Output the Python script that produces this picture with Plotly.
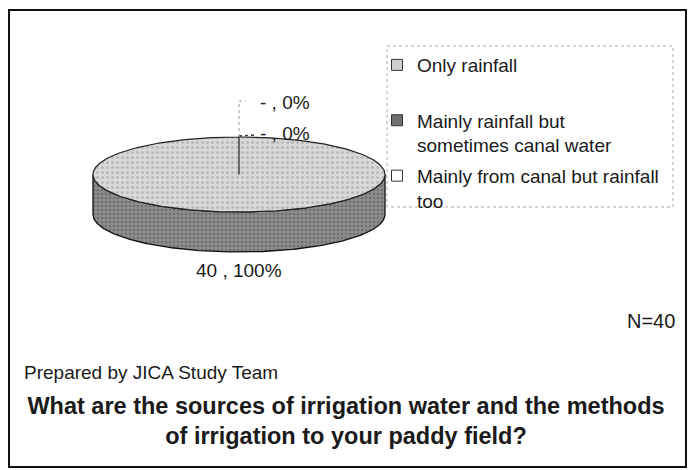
import numpy as np
import plotly.graph_objects as go

# ---------------- data ----------------
categories = ["Only rainfall",
              "Mainly rainfall but sometimes canal water",
              "Mainly from canal but rainfall too"]
legend_labels = ["Only rainfall<br> ",
                 "Mainly rainfall but<br>sometimes canal water",
                 "Mainly from canal but rainfall<br>too"]
counts = [40, 0, 0]
count_text = ["40", "-", "-"]
sample_size = 40
note_text = "Prepared by JICA Study Team"
title_text = ("What are the sources of irrigation water and the methods<br>"
              "of irrigation to your paddy field?")

# ---------------- styling / geometry ----------------
W, H = 692, 470
FONT = "Liberation Sans, Arial, sans-serif"
cx, cy, rx, ry, depth = 239, 174.5, 146, 37.5, 40
top_fill = ["#d9d9d9", "#7a7a7a", "#ffffff"]
top_fg = ["#9a9a9a", "#4a4a4a", "#ffffff"]
side_fill = ["#8c8c8c", "#555555", "#cccccc"]
side_fg = ["#555555", "#333333", "#999999"]
key_fill = ["#cfcfcf", "#707070", "#ffffff"]
txt = "#1a1a1a"

fig = go.Figure()

total = sum(counts)
fracs = [c / total for c in counts]
start = -np.pi / 2
angles = []
cum = 0.0
for f in fracs:
    t0 = start + 2 * np.pi * cum
    cum += f
    t1 = start + 2 * np.pi * cum
    angles.append((t0, t1))

# side walls (front half only)
for i, (t0, t1) in enumerate(angles):
    if t1 <= t0:
        continue
    for k in (-1, 0, 1):
        a = max(t0, 2 * np.pi * k)
        b = min(t1, np.pi + 2 * np.pi * k)
        if b > a:
            th = np.linspace(a, b, 200)
            xs = np.concatenate([cx + rx * np.cos(th), cx + rx * np.cos(th[::-1])])
            ys = np.concatenate([cy + ry * np.sin(th), cy + depth + ry * np.sin(th[::-1])])
            xs = np.append(xs, xs[0]); ys = np.append(ys, ys[0])
            fig.add_trace(go.Scatter(
                x=xs, y=ys, mode="lines", fill="toself",
                fillcolor=side_fill[i],
                fillpattern=dict(shape=".", fgcolor=side_fg[i], bgcolor=side_fill[i],
                                 size=4, solidity=0.35),
                line=dict(color="#111111", width=1.3),
                hoverinfo="skip", showlegend=False))

# top wedges
for i, (t0, t1) in enumerate(angles):
    if t1 <= t0:
        continue
    th = np.linspace(t0, t1, 400)
    xs = np.concatenate([[cx], cx + rx * np.cos(th), [cx]])
    ys = np.concatenate([[cy], cy + ry * np.sin(th), [cy]])
    fig.add_trace(go.Scatter(
        x=xs, y=ys, mode="lines", fill="toself",
        fillcolor=top_fill[i],
        fillpattern=dict(shape=".", fgcolor=top_fg[i], bgcolor=top_fill[i],
                         size=5, solidity=0.3),
        line=dict(color="#222222", width=1.2),
        hoverinfo="skip", showlegend=False))

# data labels
annotations = []
zero_rank = 0
for i, (t0, t1) in enumerate(angles):
    pct = round(100 * counts[i] / total)
    label = f"{count_text[i]} , {pct}%"
    mid = (t0 + t1) / 2
    if counts[i] > 0:
        lx = cx + rx * np.cos(mid)
        ly = cy + ry * np.sin(mid) + depth + 18
        annotations.append(dict(x=lx, y=ly, text=label, showarrow=False,
                                xanchor="center", yanchor="middle",
                                font=dict(family=FONT, size=19, color=txt)))
    else:
        ax_ = cx + rx * np.cos(mid)
        ay_ = cy + ry * np.sin(mid)
        if zero_rank == 0:
            lx, ly = ax_ + 19, ay_ - 4
            fig.add_trace(go.Scatter(x=[ax_, lx - 3], y=[ay_ - 1, ay_ - 2], mode="lines",
                                     line=dict(color="#333333", width=1.4, dash="dot"),
                                     hoverinfo="skip", showlegend=False))
        else:
            lx, ly = ax_ + 19, ay_ - 35
            fig.add_trace(go.Scatter(x=[ax_, ax_, ax_ + 7], y=[ay_, ly - 1, ly - 1],
                                     mode="lines",
                                     line=dict(color="#9a9a9a", width=1, dash="dot"),
                                     hoverinfo="skip", showlegend=False))
        zero_rank += 1
        annotations.append(dict(x=lx, y=ly, text=label, showarrow=False,
                                xanchor="left", yanchor="middle",
                                font=dict(family=FONT, size=19, color=txt)))

# legend keys
for i, name in enumerate(legend_labels):
    fig.add_trace(go.Scatter(
        x=[None], y=[None], mode="markers", name=name,
        legendgroup=f"g{i}",
        marker=dict(symbol="square", size=11, color=key_fill[i],
                    line=dict(color="#333333", width=1)),
        hoverinfo="skip"))

annotations += [
    dict(x=677, y=321, text=f"N={sample_size}", showarrow=False,
         xanchor="right", yanchor="middle",
         font=dict(family=FONT, size=20, color=txt)),
    dict(x=22, y=372, text=note_text, showarrow=False,
         xanchor="left", yanchor="middle",
         font=dict(family=FONT, size=19, color=txt)),
]

shapes = [
    dict(type="rect", x0=9, y0=10, x1=686, y1=467, xref="x", yref="y",
         line=dict(color="#111111", width=2), layer="below"),
    dict(type="rect", x0=387, y0=46, x1=673, y1=207, xref="x", yref="y",
         line=dict(color="#aaaaaa", width=1, dash="dot"), layer="below"),
]

fig.update_layout(
    width=W, height=H,
    margin=dict(l=0, r=0, t=0, b=0, pad=0),
    paper_bgcolor="white", plot_bgcolor="white",
    xaxis=dict(range=[0, W], visible=False, fixedrange=True),
    yaxis=dict(range=[H, 0], visible=False, fixedrange=True),
    showlegend=True,
    legend=dict(x=377 / W, y=1 - 46 / H, xanchor="left", yanchor="top",
                bgcolor="rgba(0,0,0,0)", borderwidth=0,
                font=dict(family=FONT, size=19, color=txt),
                valign="top", tracegroupgap=3, itemwidth=30),
    title=dict(text=f"<b>{title_text}</b>", x=0.5, xanchor="center",
               y=1 - 413.5 / H, yanchor="middle", yref="container",
               font=dict(family=FONT, size=23.5, color=txt)),
    annotations=annotations,
    shapes=shapes,
)

fig.write_html("out.html",
               config={"displayModeBar": False},
               post_script="document.body.style.margin='0';document.body.style.padding='0';")
